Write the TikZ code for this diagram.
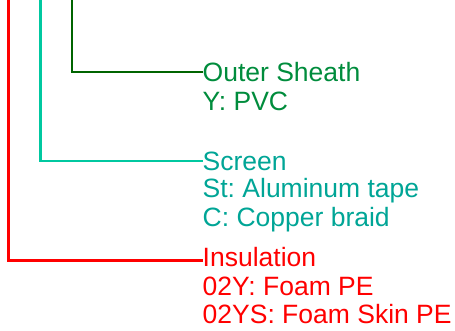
\documentclass[tikz,border=0pt]{standalone}
\usepackage{fontspec}
\setmainfont{Liberation Sans}
\frenchspacing
\definecolor{gline}{RGB}{0,100,0}
\definecolor{gtext}{RGB}{0,140,60}
\definecolor{tline}{RGB}{0,200,160}
\definecolor{ttext}{RGB}{0,165,150}
\definecolor{rline}{RGB}{255,0,0}
\definecolor{rtext}{RGB}{255,0,0}
\begin{document}
\begin{tikzpicture}[x=1pt,y=1pt,
  lbl/.style={anchor=base west,inner sep=0pt,font=\fontsize{26.5}{28.7}\selectfont},
  conn/.style={line width=2.4pt}]
\useasboundingbox (0,0) rectangle (455,-330);
% labels
\node[lbl,text=gtext] (outer) at (202.5,-81.5) {Outer Sheath};
\node[lbl,text=gtext] (outer2) at (202.5,-110.2) {Y: PVC};
\node[lbl,text=ttext] (screen) at (202.5,-170) {Screen};
\node[lbl,text=ttext] (screen2) at (202.5,-197.5) {St: Aluminum tape};
\node[lbl,text=ttext] (screen3) at (202.5,-226.5) {C: Copper braid};
\node[lbl,text=rtext] (ins) at (202.5,-266) {Insulation};
\node[lbl,text=rtext] (ins2) at (202.5,-295) {02Y: Foam PE};
\node[lbl,text=rtext] (ins3) at (202.5,-323.5) {02YS: Foam Skin PE};
% tops of leaders
\coordinate (gtop) at (71.8,0);
\coordinate (ttop) at (40.3,0);
\coordinate (rtop) at (8.5,0);
% leaders
\draw[conn,gline] (gtop) |- ([yshift=9.8pt]outer.base west);
\draw[conn,tline] (ttop) |- ([yshift=9.3pt]screen.base west);
\draw[conn,rline] (rtop) |- ([yshift=5.5pt]ins.base west);
\end{tikzpicture}
\end{document}
